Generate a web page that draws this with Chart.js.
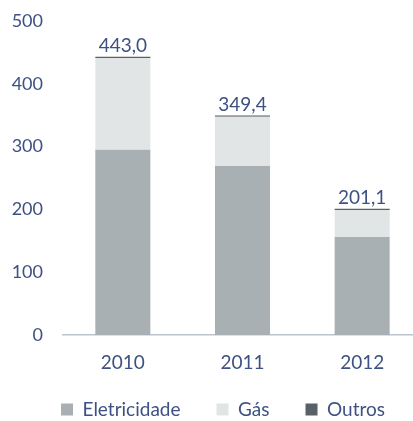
<!DOCTYPE html>
<html>
<head>
<meta charset="utf-8">
<script src="https://cdn.jsdelivr.net/npm/chart.js@4"></script>
<style>
  html, body { margin: 0; padding: 0; background: #fff; overflow: hidden; }
  #wrap { width: 422px; height: 421px; }
</style>
</head>
<body>
<div id="wrap"><canvas id="myChart" width="422" height="421"></canvas></div>
<script>
const years = ["2010", "2011", "2012"];
const eletricidade = [295, 269, 156];
const gas = [146, 78.4, 43.1];
const outros = [2, 2, 2];
const totals = ["443,0", "349,4", "201,1"];
const yTicks = [0, 100, 200, 300, 400, 500];

const textColor = "#3d5182";
const font = { family: "Lato", size: 18 };
const bigFont = { family: "Lato", size: 19 };

const totalLabels = {
  id: "totalLabels",
  afterDatasetsDraw(chart) {
    const ctx = chart.ctx;
    const meta = chart.getDatasetMeta(chart.data.datasets.length - 1);
    ctx.save();
    ctx.fillStyle = textColor;
    ctx.font = bigFont.size + "px " + bigFont.family;
    ctx.textAlign = "center";
    ctx.textBaseline = "bottom";
    meta.data.forEach((bar, i) => {
      ctx.fillText(totals[i], bar.x, bar.y - 1);
    });
    ctx.restore();
  },
};

// legend block: fixed height, items pulled up closer to the axis labels
const legendPlace = {
  id: "legendPlace",
  beforeInit(chart) {
    const fit = chart.legend.fit;
    chart.legend.fit = function () {
      fit.bind(chart.legend)();
      this.height = 44;
    };
  },
  afterLayout(chart) {
    chart.legend.top -= 13;
    chart.legend.left += 6;
    chart.legend.right += 6;
  },
};

new Chart(document.getElementById("myChart"), {
  type: "bar",
  data: {
    labels: years,
    datasets: [
      { label: "Eletricidade", data: eletricidade, backgroundColor: "#a9b0b4" },
      { label: "Gás", data: gas, backgroundColor: "#e2e5e6" },
      { label: "Outros", data: outros, backgroundColor: "#596066" },
    ],
  },
  options: {
    responsive: false,
    animation: false,
    barPercentage: 0.46,
    categoryPercentage: 1,
    layout: { padding: { left: 12, top: 21, right: 0, bottom: 0 } },
    scales: {
      x: {
        stacked: true,
        grid: { display: false, drawTicks: false },
        border: { display: true, color: "#bcc4cf", width: 1.5 },
        ticks: { color: textColor, font: bigFont, padding: 16 },
        afterFit: (axis) => { axis.height = 42; },
      },
      y: {
        stacked: true,
        min: 0,
        max: 500,
        afterBuildTicks: (axis) => {
          axis.ticks = yTicks.map((v) => ({ value: v }));
        },
        grid: { display: false, drawTicks: false },
        border: { display: false },
        ticks: { color: textColor, font: font, padding: 20 },
        afterFit: (axis) => {
          axis.width = 51;
          axis.paddingTop = 0;
          axis.paddingBottom = 0;
        },
      },
    },
    plugins: {
      legend: {
        position: "bottom",
        labels: {
          color: textColor,
          font: bigFont,
          boxWidth: 12,
          boxHeight: 12,
          padding: 36,
        },
      },
      tooltip: { enabled: false },
    },
  },
  plugins: [totalLabels, legendPlace],
});
</script>
</body>
</html>
